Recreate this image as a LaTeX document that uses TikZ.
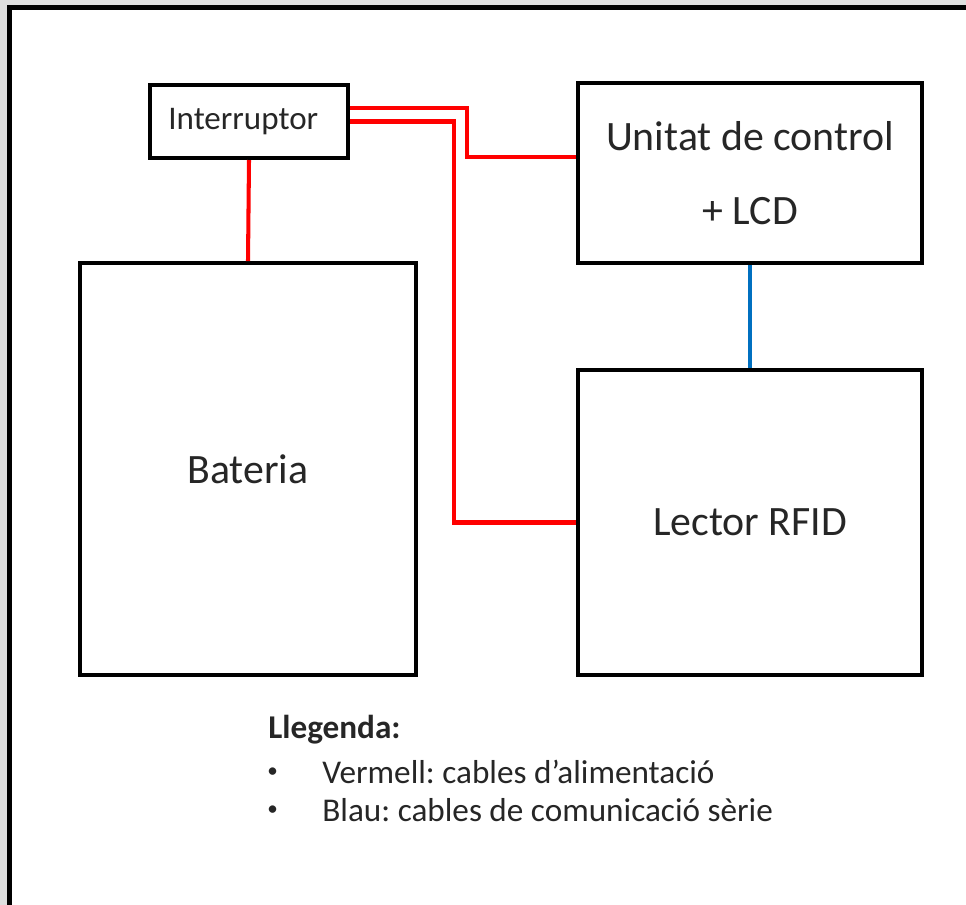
\documentclass[tikz,border=0pt]{standalone}
\usepackage{fontspec}
\setmainfont{Carlito}
\usepackage{xcolor}
\usepackage{tikz}
\usetikzlibrary{positioning,calc}

\definecolor{cablered}{RGB}{255,0,0}
\definecolor{cableblue}{RGB}{0,112,192}
\definecolor{textgray}{RGB}{38,38,38}

\tikzset{
  block/.style={draw=black,line width=2.3pt,fill=white,text=textgray,inner sep=0pt},
  power/.style={cablered,line width=2.3pt},
  serial/.style={cableblue,line width=1.9pt},
  legtext/.style={anchor=west,inner sep=0pt,text=textgray,font=\fontsize{18.9}{22}\selectfont},
  legbullet/.style={anchor=west,inner sep=0pt,text=textgray,font=\fontsize{12}{14}\selectfont}
}

\frenchspacing
\begin{document}
\begin{tikzpicture}[x=0.02cm,y=-0.02cm]
  % screenshot frame
  \useasboundingbox (0,0) rectangle (966,905);
  \fill[gray!25] (0,0) rectangle (966,905);
  \fill[white] (9,7) rectangle (966,905);
  \draw[black,line width=3pt] (9.5,905) -- (9.5,7.5) -- (966,7.5);

  % blocks
  \node[block,minimum width=3.96cm,minimum height=1.46cm,font=\fontsize{18.8}{22}\selectfont]
        (inter) at (249,121.5) {\hspace*{-6.5pt}Interruptor};
  \node[block,minimum width=6.88cm,minimum height=3.6cm,align=center,font=\fontsize{23.8}{42}\selectfont]
        (unit) at (750,173) {Unitat de control\\+ LCD};
  \node[block,minimum width=6.72cm,minimum height=8.24cm,font=\fontsize{23.8}{28}\selectfont]
        (bat) at (248,469) {Bateria};
  \node[block,minimum width=6.88cm,minimum height=6.1cm,font=\fontsize{23.8}{28}\selectfont]
        (lect) at (750,522.5) {Lector RFID};

  % cables
  \draw[power] (inter.south) -- (bat.north);
  \draw[power] ([yshift=0.27cm]inter.east) -- ++(117,0) |- ([yshift=0.32cm]unit.west);
  \draw[power] (inter.east) -- ++(104,0) |- (lect.west);
  \draw[serial] (unit.south) -- (lect.north);

  % legend
  \node[legtext,font=\fontsize{18.9}{22}\bfseries] (legtitle) at (268,730) {Llegenda:};
  \node[legbullet] (bul1) at (267,773) {\textbullet};
  \node[legtext] (leg1) at (322,772) {Vermell: cables d’alimentació};
  \node[legbullet] (bul2) at (267,811) {\textbullet};
  \node[legtext] (leg2) at (322,810) {Blau: cables de comunicació sèrie};
\end{tikzpicture}
\end{document}
